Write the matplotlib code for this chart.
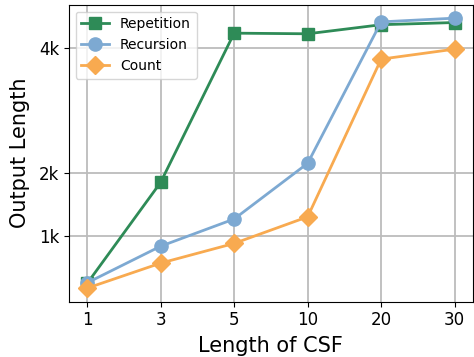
import numpy as np
import matplotlib
matplotlib.use('Agg')
import matplotlib.pyplot as plt

csf_lengths = ['1', '3', '5', '10', '20', '30']
repetition = [240, 1855, 4240, 4230, 4375, 4410]
recursion = [250, 835, 1270, 2160, 4420, 4480]
count = [165, 565, 880, 1305, 3825, 3985]

y_ticks = [1000, 2000, 4000]
y_tick_labels = ['1k', '2k', '4k']

fig = plt.figure(figsize=(4.74, 3.57), dpi=100)
ax = fig.add_axes([0.145, 0.155, 0.853, 0.832])

x = np.arange(len(csf_lengths))
ax.plot(x, repetition, marker='s', color='#2E8B57', lw=2, ms=8.5, label='Repetition')
ax.plot(x, recursion, marker='o', color='#7DA9D2', lw=2, ms=9.5, label='Recursion')
ax.plot(x, count, marker='D', color='#F8AA50', lw=2, ms=9, label='Count')

ax.set_xticks(x)
ax.set_xticklabels(csf_lengths)
ax.set_yticks(y_ticks)
ax.set_yticklabels(y_tick_labels)
ax.tick_params(labelsize=12)
ax.grid(True, color='#bcbcbc', lw=1.3)
ax.set_axisbelow(True)

ax.set_xlabel('Length of CSF', fontsize=15, labelpad=5)
ax.set_ylabel('Output Length', fontsize=15, labelpad=6)
ax.legend(loc='upper left', fontsize=10)

fig.savefig('out.png', dpi=100)
